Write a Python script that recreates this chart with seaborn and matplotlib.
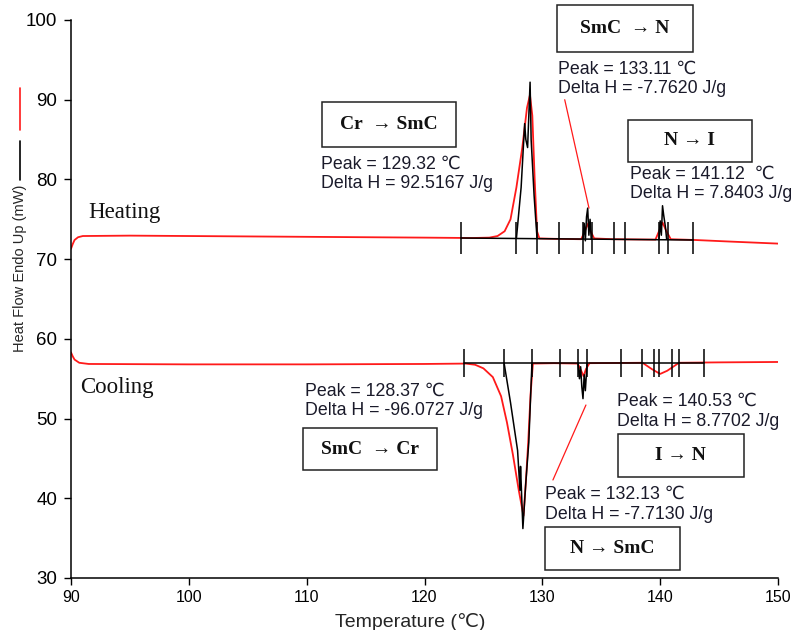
import numpy as np
import pandas as pd
import seaborn as sns
import matplotlib.pyplot as plt
from matplotlib.patches import Rectangle
from matplotlib.lines import Line2D

# red DSC curves (temperature in C, heat flow in mW)
heat_t = [90.0, 90.15, 90.3, 90.6, 91.0, 95.0, 100.0, 110.0, 120.0, 124.0, 125.5, 126.2,
          126.8, 127.3, 127.8, 128.3, 128.7, 128.95, 129.15, 129.35, 129.55, 129.75, 131.0,
          133.3, 133.6, 133.9, 134.1, 134.4, 136.0, 139.6, 139.9, 140.2, 140.5, 140.9,
          143.0, 146.0, 150.0]
heat_q = [71.3, 71.9, 72.4, 72.75, 72.9, 72.95, 72.9, 72.8, 72.7, 72.65, 72.7, 72.9,
          73.5, 75.0, 79.0, 84.0, 89.0, 90.6, 88.0, 80.0, 73.5, 72.6, 72.55,
          72.5, 73.5, 74.5, 73.5, 72.6, 72.5, 72.45, 73.5, 74.6, 73.6, 72.5,
          72.4, 72.2, 71.95]

cool_t = [90.0, 90.15, 90.3, 90.7, 91.5, 100.0, 110.0, 120.0, 123.5, 124.3, 125.0, 125.8,
          126.5, 127.0, 127.5, 128.0, 128.4, 128.6, 128.8, 129.0, 129.2, 131.0, 133.0,
          133.3, 133.5, 133.7, 134.0, 138.5, 139.3, 140.0, 140.6, 141.6, 145.0, 150.0]
cool_q = [58.3, 57.8, 57.4, 57.0, 56.85, 56.8, 56.8, 56.85, 56.9, 56.75, 56.3, 55.2,
          52.8, 49.5, 45.5, 41.0, 37.8, 42.0, 47.0, 53.0, 56.9, 56.95, 56.9,
          56.0, 55.3, 56.2, 56.95, 57.0, 56.2, 55.6, 56.0, 57.0, 57.05, 57.1]

# black integration traces
heat_base_t = [123.1, 142.8]
heat_base_q = [72.65, 72.4]
heat_pk1_t = [127.8, 128.2, 128.5, 128.6, 128.75, 128.96, 129.05, 129.3, 129.55]
heat_pk1_q = [72.6, 79.0, 87.0, 85.0, 84.0, 92.2, 85.0, 78.0, 72.6]
heat_pk2_t = [133.45, 133.55, 133.65, 133.75, 133.85, 133.95, 134.05, 134.15]
heat_pk2_q = [72.5, 74.5, 72.3, 75.3, 76.4, 73.0, 75.0, 72.5]
heat_pk3_t = [139.9, 140.0, 140.1, 140.2, 140.3, 140.45, 140.55, 140.7]
heat_pk3_q = [72.5, 74.8, 73.0, 76.7, 75.5, 74.0, 72.5, 72.5]

cool_base_t = [123.35, 143.72]
cool_base_q = [56.95, 56.95]
cool_pk1_t = [126.75, 127.3, 127.9, 128.1, 128.15, 128.35, 128.6, 128.85, 129.12]
cool_pk1_q = [57.0, 52.0, 46.0, 41.0, 44.0, 36.2, 42.0, 47.0, 57.0]
cool_pk2_t = [133.03, 133.15, 133.25, 133.35, 133.45, 133.55, 133.65, 133.8]
cool_pk2_q = [57.0, 55.0, 56.5, 54.0, 52.5, 55.5, 53.5, 57.0]

heat_marks = [123.1, 127.8, 129.55, 131.4, 133.45, 134.2, 136.1, 137.0, 139.9, 140.7, 142.8]
cool_marks = [123.35, 126.75, 129.12, 131.5, 133.03, 133.8, 136.68, 138.47, 139.49,
              139.9, 141.0, 141.6, 143.72]

labels = ['SmC  \u2192 N', 'Cr  \u2192 SmC', 'N \u2192 I', 'SmC  \u2192 Cr', 'I \u2192 N', 'N \u2192 SmC']
boxes = [(131.25, 96.0, 11.55, 5.9), (111.3, 84.1, 11.4, 5.6), (137.27, 82.2, 10.5, 5.25),
         (109.7, 43.5, 11.35, 5.3), (136.4, 42.7, 10.7, 5.35), (130.2, 31.0, 11.5, 5.4)]
notes = ['Peak = 133.11 \u2103\nDelta H = -7.7620 J/g',
         'Peak = 129.32 \u2103\nDelta H = 92.5167 J/g',
         'Peak = 141.12  \u2103\nDelta H = 7.8403 J/g',
         'Peak = 128.37 \u2103\nDelta H = -96.0727 J/g',
         'Peak = 140.53 \u2103\nDelta H = 8.7702 J/g',
         'Peak = 132.13 \u2103\nDelta H = -7.7130 J/g']
note_xy = [(131.33, 94.9), (111.2, 83.0), (137.45, 81.7), (109.86, 54.5), (136.34, 53.2),
           (130.23, 41.55)]

sns.set_style("ticks")
plt.rcParams['font.family'] = ['Liberation Sans', 'DejaVu Sans']
sans = ['Liberation Sans', 'DejaVu Sans']
serif = ['Liberation Serif', 'DejaVu Serif']

fig = plt.figure(figsize=(7.94, 6.30), dpi=100)
ax = fig.add_axes([71 / 794, 52 / 630, 707 / 794, 558 / 630])

red = '#ff1a1a'
for t, q in [(heat_t, heat_q), (cool_t, cool_q)]:
    sns.lineplot(x=t, y=q, sort=False, color=red, linewidth=1.3, ax=ax)

for t, q in [(heat_base_t, heat_base_q), (heat_pk1_t, heat_pk1_q), (heat_pk2_t, heat_pk2_q),
             (heat_pk3_t, heat_pk3_q), (cool_base_t, cool_base_q), (cool_pk1_t, cool_pk1_q),
             (cool_pk2_t, cool_pk2_q)]:
    sns.lineplot(x=t, y=q, sort=False, color='black', linewidth=1.1, ax=ax)

ax.vlines(heat_marks, 70.6, 74.6, color='black', linewidth=1.1)
ax.vlines(cool_marks, 55.2, 58.7, color='black', linewidth=1.1)

# leader lines
ax.plot([131.9, 133.96], [90.0, 76.4], color=red, linewidth=0.9)
ax.plot([130.9, 133.7], [42.3, 51.7], color=red, linewidth=0.9)

for lab, (bx, by, bw, bh) in zip(labels, boxes):
    ax.add_patch(Rectangle((bx, by), bw, bh, fill=False, edgecolor='#222222',
                           linewidth=1.1, clip_on=False))
    ax.text(bx + bw / 2, by + bh / 2, lab, ha='center', va='center', family=serif,
            fontweight='bold', fontsize=14, color='#111111', clip_on=False)

for txt, (tx, ty) in zip(notes, note_xy):
    ax.text(tx, ty, txt, ha='left', va='top', family=sans, fontsize=12.8,
            color='#1a1a2a', linespacing=1.2)

ax.text(91.44, 75.8, 'Heating', family=serif, fontsize=16.5, va='center', color='#111111')
ax.text(90.76, 53.95, 'Cooling', family=serif, fontsize=16.5, va='center', color='#111111')

ax.set_xlim(90, 150)
ax.set_ylim(30, 100)
ax.set_xticks(range(90, 151, 10))
ax.set_yticks(range(30, 101, 10))
ax.tick_params(length=5, width=1, direction='out', colors='black')
ax.tick_params(axis='x', labelsize=11.5)
ax.tick_params(axis='y', labelsize=13.5, pad=5)
ax.set_xlabel('')
ax.set_ylabel('')
sns.despine(ax=ax)
for s in ['left', 'bottom']:
    ax.spines[s].set_color('black')
    ax.spines[s].set_linewidth(1.1)

fig.text(410 / 794, 1 - 622 / 630, 'Temperature (\u2103)', ha='center', va='center', fontsize=14)
fig.text(20 / 794, 1 - 268 / 630, 'Heat Flow Endo Up (mW)', rotation=90, ha='center',
         va='center', fontsize=10.5)
fig.add_artist(Line2D([20 / 794, 20 / 794], [1 - 180 / 630, 1 - 141 / 630],
                      color='black', linewidth=1.2))
fig.add_artist(Line2D([20 / 794, 20 / 794], [1 - 130 / 630, 1 - 88 / 630],
                      color=red, linewidth=1.2))

fig.savefig('out.png', dpi=100)
